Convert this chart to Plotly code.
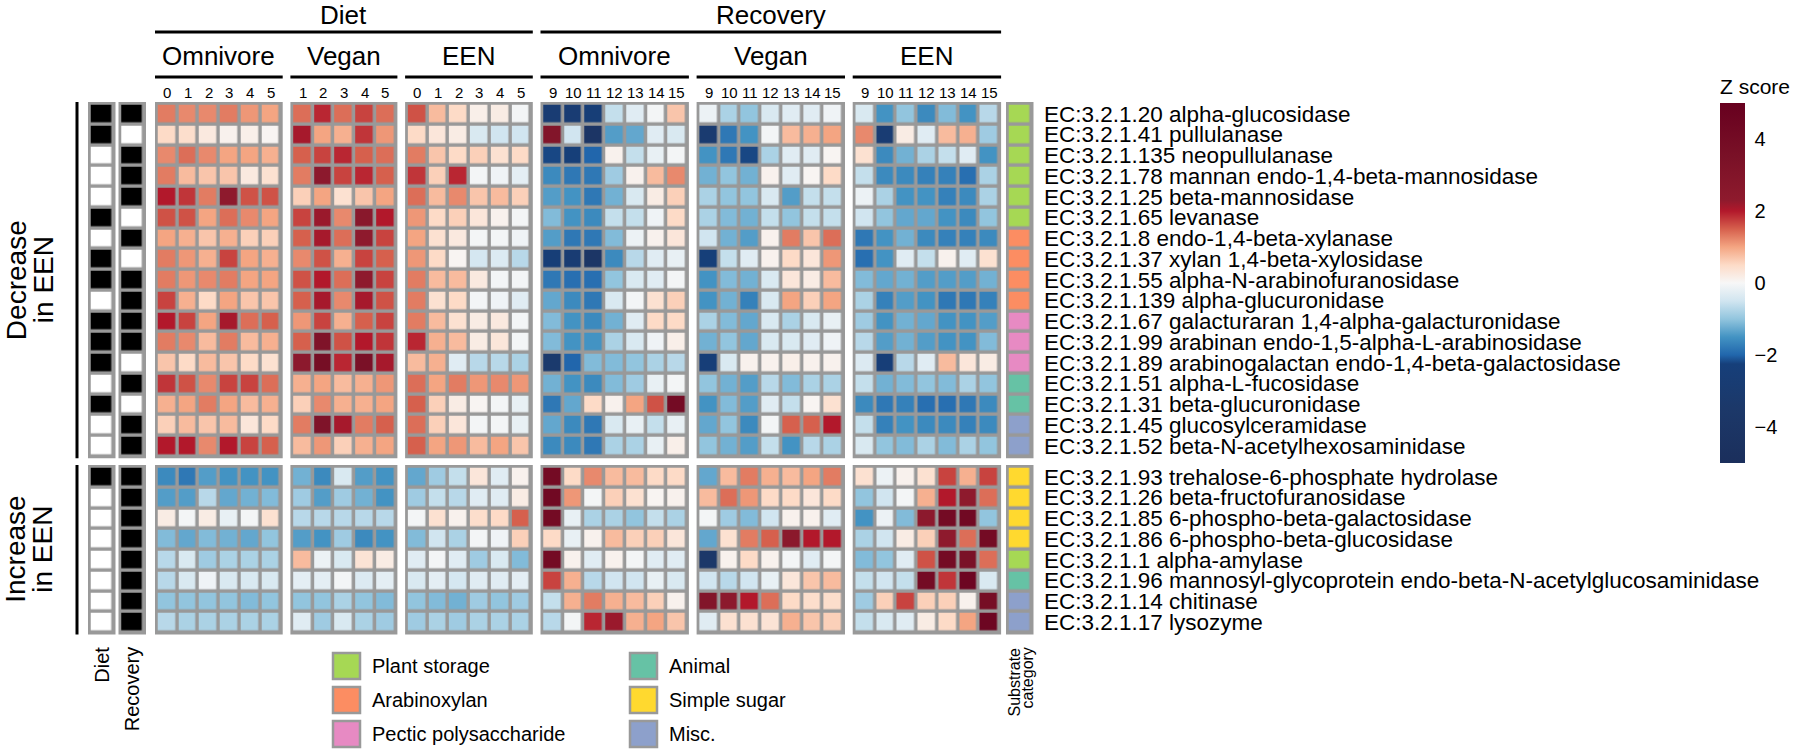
import plotly.graph_objects as go

# ---------------- data ----------------
enzymes_decrease = [
    "EC:3.2.1.20 alpha-glucosidase",
    "EC:3.2.1.41 pullulanase",
    "EC:3.2.1.135 neopullulanase",
    "EC:3.2.1.78 mannan endo-1,4-beta-mannosidase",
    "EC:3.2.1.25 beta-mannosidase",
    "EC:3.2.1.65 levanase",
    "EC:3.2.1.8 endo-1,4-beta-xylanase",
    "EC:3.2.1.37 xylan 1,4-beta-xylosidase",
    "EC:3.2.1.55 alpha-N-arabinofuranosidase",
    "EC:3.2.1.139 alpha-glucuronidase",
    "EC:3.2.1.67 galacturaran 1,4-alpha-galacturonidase",
    "EC:3.2.1.99 arabinan endo-1,5-alpha-L-arabinosidase",
    "EC:3.2.1.89 arabinogalactan endo-1,4-beta-galactosidase",
    "EC:3.2.1.51 alpha-L-fucosidase",
    "EC:3.2.1.31 beta-glucuronidase",
    "EC:3.2.1.45 glucosylceramidase",
    "EC:3.2.1.52 beta-N-acetylhexosaminidase",
]
enzymes_increase = [
    "EC:3.2.1.93 trehalose-6-phosphate hydrolase",
    "EC:3.2.1.26 beta-fructofuranosidase",
    "EC:3.2.1.85 6-phospho-beta-galactosidase",
    "EC:3.2.1.86 6-phospho-beta-glucosidase",
    "EC:3.2.1.1 alpha-amylase",
    "EC:3.2.1.96 mannosyl-glycoprotein endo-beta-N-acetylglucosaminidase",
    "EC:3.2.1.14 chitinase",
    "EC:3.2.1.17 lysozyme",
]

diet_omnivore_days = ["0", "1", "2", "3", "4", "5"]
diet_vegan_days = ["1", "2", "3", "4", "5"]
diet_een_days = ["0", "1", "2", "3", "4", "5"]
recovery_days = ["9", "10", "11", "12", "13", "14", "15"]

z_diet_omnivore = [
    [1.3, 1.2, 1.2, 1.3, 1.1, 1.0],
    [0.5, 0.45, 0.25, 0.1, 0.15, 0.05],
    [1.2, 1.4, 1.2, 1.0, 1.0, 0.9],
    [1.3, 0.8, 0.7, 0.7, 0.25, 0.4],
    [2.0, 1.8, 1.3, 2.3, 1.6, 1.6],
    [1.6, 1.6, 1.0, 1.4, 1.2, 1.0],
    [1.0, 0.9, 0.7, 0.9, 0.6, 0.6],
    [1.3, 1.1, 0.9, 1.7, 1.0, 0.9],
    [1.3, 1.1, 1.2, 1.3, 1.0, 1.0],
    [1.7, 0.9, 0.5, 1.0, 0.7, 0.7],
    [2.0, 1.7, 1.0, 2.1, 1.4, 1.5],
    [1.3, 1.2, 0.8, 1.3, 0.8, 0.9],
    [0.7, 0.5, 0.8, 0.7, 0.5, 0.4],
    [1.8, 1.6, 1.2, 1.7, 1.7, 1.4],
    [0.9, 1.0, 1.3, 1.0, 0.8, 0.9],
    [0.6, 0.8, 0.7, 0.8, 0.3, 0.5],
    [2.0, 2.0, 1.2, 2.0, 1.7, 1.5],
    [-1.6, -1.8, -1.4, -1.5, -1.5, -1.5],
    [-1.4, -1.4, -0.7, -1.3, -1.2, -1.1],
    [0.2, -0.05, 0.2, -0.2, -0.05, 0.4],
    [-1.1, -1.3, -1.1, -1.2, -1.3, -1.0],
    [-0.7, -0.4, -0.9, -0.8, -0.8, -0.8],
    [-0.7, -0.4, -0.1, -0.4, -0.4, -0.4],
    [-1.0, -1.0, -1.0, -1.0, -1.1, -1.0],
    [-0.7, -0.8, -0.8, -0.8, -0.8, -0.8],
]

z_diet_vegan = [
    [1.4, 1.9, 1.4, 1.7, 1.4],
    [2.1, 1.0, 0.9, 1.8, 1.1],
    [1.5, 1.7, 1.9, 1.5, 1.4],
    [1.3, 2.4, 1.7, 1.9, 1.5],
    [0.6, 1.0, 0.4, 0.7, 1.0],
    [1.7, 2.2, 1.2, 2.6, 2.0],
    [1.5, 2.1, 1.4, 2.3, 1.7],
    [1.2, 1.6, 0.9, 1.7, 1.5],
    [1.6, 2.0, 1.4, 2.3, 1.7],
    [1.5, 2.1, 1.2, 2.1, 1.6],
    [1.1, 1.7, 0.9, 1.5, 1.7],
    [1.5, 3.2, 1.6, 2.0, 1.8],
    [2.4, 3.8, 1.9, 3.5, 2.1],
    [0.9, 1.0, 0.8, 0.9, 1.1],
    [0.6, 1.2, 0.9, 0.9, 1.0],
    [1.3, 3.2, 2.1, 1.3, 1.5],
    [0.8, 1.1, 0.6, 0.9, 1.0],
    [-1.2, -1.6, -0.4, -1.4, -1.5],
    [-0.9, -1.4, -0.9, -1.2, -1.5],
    [-0.7, -0.7, -0.7, -0.7, -0.7],
    [-1.4, -1.5, -0.9, -1.6, -1.5],
    [0.8, -0.15, -0.4, 0.35, 0.2],
    [-0.25, -0.25, -0.05, -0.35, -0.25],
    [-1.0, -1.0, -0.8, -1.0, -1.1],
    [-0.3, -0.9, -0.4, -0.8, -0.9],
]

z_diet_een = [
    [1.6, 0.8, 0.5, 0.15, 0.2, -0.05],
    [0.5, 0.3, 0.2, -0.4, -0.5, -0.5],
    [1.3, 0.7, 0.5, 0.6, 0.4, 0.5],
    [1.8, 0.6, 1.9, -0.05, -0.1, -0.25],
    [1.4, 0.8, 1.2, 0.7, 0.8, 0.6],
    [1.1, 0.5, 0.6, 0.3, 0.1, -0.05],
    [1.0, 0.4, 0.25, -0.05, -0.05, -0.1],
    [1.1, 0.5, 0.05, -0.45, -0.35, -0.7],
    [1.3, 0.8, 0.8, 0.25, -0.05, -0.05],
    [1.3, 0.4, 0.5, -0.05, -0.1, -0.3],
    [1.3, 0.8, 0.4, 0.2, 0.25, -0.05],
    [1.9, 0.9, 0.8, 0.2, 0.3, -0.05],
    [0.8, 0.9, -0.3, -0.7, -0.7, -0.8],
    [1.4, 1.0, 1.3, 1.1, 1.2, 1.1],
    [1.5, 0.6, 0.2, 0.05, -0.05, -0.2],
    [1.4, 0.6, 0.3, -0.05, -0.05, -0.2],
    [1.5, 1.0, 1.1, 0.8, 1.0, 0.7],
    [-1.3, -0.9, -0.6, 0.3, -0.3, 0.1],
    [-0.9, -0.6, -0.7, -0.3, -0.3, 0.2],
    [-0.05, 0.4, 0.1, 0.45, 0.5, 1.5],
    [-1.1, -0.5, -0.8, -0.05, -0.1, 0.6],
    [-0.3, -0.05, -0.3, -0.9, -0.4, -1.1],
    [-0.4, -0.25, -0.45, -0.3, -0.3, -0.25],
    [-1.0, -1.1, -1.2, -0.9, -1.0, -0.9],
    [-0.9, -0.8, -0.9, -0.8, -0.8, -0.8],
]

z_recovery_omnivore = [
    [-2.8, -2.8, -2.5, -0.6, -0.3, -0.05, 0.7],
    [3.0, -0.5, -4.0, -1.4, -1.3, -0.3, -0.4],
    [-2.2, -2.3, -2.0, 0.1, -0.6, -0.2, -0.05],
    [-1.6, -1.8, -1.8, -0.9, 0.1, 0.8, 1.2],
    [-1.4, -1.5, -1.8, -1.2, -0.4, 0.2, 0.6],
    [-1.1, -1.5, -1.6, -0.6, -0.6, -0.1, 0.5],
    [-1.4, -1.8, -1.8, -1.1, -0.15, 0.1, 0.3],
    [-2.5, -2.8, -3.8, -1.6, -0.7, -0.3, -0.2],
    [-1.8, -1.9, -1.9, -1.0, -0.4, -0.3, -0.05],
    [-1.3, -1.6, -1.8, -0.4, -0.05, 0.4, 0.6],
    [-1.1, -1.5, -1.6, -1.2, -0.3, 0.5, 0.5],
    [-1.1, -1.5, -1.5, -0.8, -0.4, -0.1, 0.15],
    [-3.2, -2.0, -1.1, -1.1, -1.0, -0.8, -0.7],
    [-1.2, -1.5, -1.6, -1.1, -0.9, -0.2, -0.05],
    [-1.8, -1.3, 0.5, 0.1, 1.0, 1.6, 4.0],
    [-1.3, -1.6, -1.8, -0.4, -0.2, -0.6, -0.2],
    [-1.6, -1.6, -1.8, -0.8, -0.8, -0.2, 0.15],
    [4.0, 0.5, 1.2, 0.8, 0.8, 0.5, 0.5],
    [4.2, 1.1, -0.05, 0.6, 0.4, 0.05, 0.1],
    [4.0, -0.2, -0.8, -0.8, -1.0, -0.6, -0.8],
    [0.5, -0.2, 0.1, 0.8, 0.6, 0.6, 0.3],
    [4.0, 0.1, -0.3, 0.1, -0.05, -0.3, -0.3],
    [1.7, 0.9, -0.7, -0.5, -0.5, -0.2, -0.4],
    [-0.6, 0.9, 1.3, 0.9, 0.8, 0.6, 0.1],
    [-0.7, -0.05, 1.9, 2.2, 0.9, 1.0, 0.7],
]

z_recovery_vegan = [
    [-0.15, -0.8, -1.0, -0.4, -0.3, -0.3, -0.1],
    [-3.0, -1.8, -1.5, -0.05, 0.8, 0.9, 1.0],
    [-1.5, -1.8, -2.2, -0.8, -0.3, -0.3, 0.05],
    [-1.2, -1.0, -1.2, 0.1, -0.3, 0.05, 0.5],
    [-0.8, -1.0, -1.0, -0.4, -1.4, -0.6, -0.6],
    [-0.8, -1.1, -1.2, -0.6, -1.0, -0.6, -0.6],
    [-0.5, -1.2, -1.4, 0.1, 1.3, 0.7, 1.4],
    [-2.3, -0.6, -0.3, 0.1, 0.5, 0.3, 1.1],
    [-1.5, -1.1, -1.2, -0.4, 0.3, 0.2, 0.8],
    [-1.5, -1.2, -1.7, -0.4, 1.0, 0.6, 1.0],
    [-0.8, -1.1, -1.3, -0.4, -0.8, -0.4, -0.2],
    [-1.2, -1.0, -1.3, -0.4, -0.4, -0.3, -0.1],
    [-2.4, -0.4, 0.1, 0.1, 0.15, 0.1, 0.1],
    [-1.0, -1.2, -1.4, -0.7, -1.1, -0.8, -0.8],
    [-1.5, -1.1, -1.4, -0.3, -0.6, 0.05, 0.4],
    [-1.3, -1.0, -1.6, -0.05, 1.5, 1.5, 2.0],
    [-1.0, -1.2, -1.4, -0.6, -1.5, -0.7, -0.8],
    [-1.3, 0.8, 1.3, 0.9, 0.8, 1.0, 1.3],
    [0.8, 1.4, 1.1, 0.5, 0.5, 0.3, 0.5],
    [-0.05, -0.9, -1.1, -0.5, 0.1, 0.1, -0.3],
    [-1.3, 0.4, 1.3, 1.5, 2.5, 2.0, 2.0],
    [-3.5, 0.1, 0.5, 0.1, -0.05, -0.3, -0.05],
    [-0.5, -0.7, -0.5, -0.2, 0.3, 0.7, 0.8],
    [3.0, 2.4, 2.0, 1.4, 0.5, 0.45, 0.45],
    [-0.3, 0.4, 0.4, 0.35, 0.9, 0.7, 0.6],
]

z_recovery_een = [
    [-0.4, -1.5, -1.0, -1.6, -1.1, -1.5, -0.7],
    [1.2, -2.8, 0.2, -0.3, 0.8, 0.9, -0.9],
    [0.4, -1.6, -1.2, -0.8, -0.6, -0.3, -1.5],
    [-0.6, -1.6, -1.6, -1.7, -1.7, -1.9, -0.8],
    [-0.15, -0.8, -1.5, -1.5, -1.7, -1.6, -0.8],
    [-0.5, -1.0, -1.3, -1.3, -1.5, -1.6, -1.0],
    [-1.8, -1.5, -1.2, -1.6, -1.7, -1.7, -1.6],
    [-1.9, -1.5, -0.3, -0.6, 0.1, -0.3, 0.4],
    [-1.1, -1.3, -1.2, -1.4, -1.4, -1.4, -1.2],
    [-0.8, -1.7, -1.4, -1.5, -1.8, -1.8, -1.7],
    [-0.9, -1.5, -1.2, -1.3, -1.5, -1.5, -1.4],
    [-0.7, -1.4, -1.2, -1.4, -1.5, -1.5, -1.1],
    [-0.35, -2.4, -0.7, -0.3, 0.8, 0.3, 0.2],
    [-0.6, -1.2, -1.1, -1.0, -1.1, -0.8, -1.0],
    [-1.6, -1.8, -1.7, -1.9, -1.9, -1.8, -1.6],
    [-0.6, -1.7, -1.5, -1.6, -1.6, -1.7, -1.6],
    [-0.4, -1.0, -1.1, -0.8, -1.1, -0.8, -1.0],
    [0.4, -0.15, 0.1, 0.4, 1.7, 0.9, 1.7],
    [-1.0, -0.5, -0.05, 0.9, 2.0, 2.3, 1.4],
    [-1.5, -0.15, -1.1, 2.4, 4.0, 4.2, -1.0],
    [-0.8, -0.5, 0.2, 0.6, 2.3, 1.4, 4.0],
    [-1.1, -1.0, -0.3, 1.6, 4.0, 3.5, 1.4],
    [-0.6, -0.5, -0.6, 4.0, 1.8, 4.5, -0.4],
    [-0.9, 0.6, 1.7, 0.6, 0.6, 0.1, 3.8],
    [-0.6, -0.4, -0.3, 0.2, 0.5, 1.0, 4.5],
]

diet_significant = [1, 1, 0, 0, 0, 1, 0, 1, 1, 0, 1, 1, 1, 0, 1, 0, 0,
                    1, 0, 0, 0, 0, 0, 0, 0]
recovery_significant = [1, 0, 1, 1, 1, 0, 1, 0, 1, 1, 1, 1, 0, 1, 0, 1, 1,
                        1, 1, 1, 1, 1, 1, 1, 1]

category_names = ["Plant storage", "Arabinoxylan", "Pectic polysaccharide",
                  "Animal", "Simple sugar", "Misc."]
category_colors = ["#a6d854", "#fc8d62", "#e78ac3", "#66c2a5", "#ffd92f", "#8da0cb"]
substrate_category = [
    "Plant storage", "Plant storage", "Plant storage", "Plant storage", "Plant storage", "Plant storage",
    "Arabinoxylan", "Arabinoxylan", "Arabinoxylan", "Arabinoxylan",
    "Pectic polysaccharide", "Pectic polysaccharide", "Pectic polysaccharide",
    "Animal", "Animal", "Misc.", "Misc.",
    "Simple sugar", "Simple sugar", "Simple sugar", "Simple sugar",
    "Plant storage", "Animal", "Misc.", "Misc.",
]

zscore_ticks = [-4, -2, 0, 2, 4]

# ---------------- layout constants ----------------
W, H = 1800, 750
PX, PY = 20.7, 20.75       # cell pitch
G = 3.5                     # gap between cells / frame thickness
FRAME = "#999999"
FONT = "Liberation Sans, Arial, Helvetica, sans-serif"
group_tops = [102, 465]
group_sizes = [len(enzymes_decrease), len(enzymes_increase)]
group_starts = [0, group_sizes[0]]
BLOCK_GAP = 7.7
FIRST_LEFT = 155
ANN_W = 27.5

zs = [
    [-5, "#1b2f5c"], [-3.5, "#1c3869"], [-2.25, "#163f7a"], [-2.0, "#2166ac"],
    [-1.5, "#4393c3"], [-1.0, "#92c5de"], [-0.5, "#d1e5f0"], [0, "#f7f7f7"],
    [0.5, "#fddbc7"], [1.0, "#f4a582"], [1.5, "#d6604d"], [2.0, "#b2182b"],
    [2.3, "#8e1a2d"], [3.5, "#7a1127"], [5, "#67001f"],
]
colorscale = [[(v + 5) / 10, c] for v, c in zs]

fig = go.Figure()
shapes = []
annotations = []


def text(x, y, s, size, xanchor="center", yanchor="middle", angle=0, color="black"):
    annotations.append(dict(x=x, y=y, xref="x", yref="y", text=s, showarrow=False,
                            xanchor=xanchor, yanchor=yanchor, textangle=angle,
                            font=dict(family=FONT, size=size, color=color)))


def hline(x0, x1, y, w=3):
    shapes.append(dict(type="line", xref="x", yref="y", x0=x0, x1=x1, y0=y, y1=y,
                       line=dict(color="black", width=w)))


blocks = [
    ("Diet", "Omnivore", diet_omnivore_days, z_diet_omnivore),
    ("Diet", "Vegan", diet_vegan_days, z_diet_vegan),
    ("Diet", "EEN", diet_een_days, z_diet_een),
    ("Recovery", "Omnivore", recovery_days, z_recovery_omnivore),
    ("Recovery", "Vegan", recovery_days, z_recovery_vegan),
    ("Recovery", "EEN", recovery_days, z_recovery_een),
]

left = FIRST_LEFT
phase_extent = {}
for phase, diet, days, z in blocks:
    n = len(days)
    width = n * PX + G
    for gi in range(2):
        top = group_tops[gi]
        nr = group_sizes[gi]
        s = group_starts[gi]
        fig.add_trace(go.Heatmap(
            z=z[s:s + nr], x0=left + G / 2 + PX / 2, dx=PX,
            y0=top + G / 2 + PY / 2, dy=PY, coloraxis="coloraxis",
            xgap=G, ygap=G, hoverinfo="skip"))
        shapes.append(dict(type="rect", xref="x", yref="y", x0=left, x1=left + width,
                           y0=top, y1=top + nr * PY + G, fillcolor=FRAME,
                           line=dict(width=0), layer="below"))
    for j, d in enumerate(days):
        text(left + G / 2 + PX / 2 + j * PX, 92, d, 15)
    text(left + width / 2, 56, diet, 26)
    hline(left, left + width, 77)
    lo, hi = phase_extent.get(phase, (left, left + width))
    phase_extent[phase] = (min(lo, left), max(hi, left + width))
    left += width + BLOCK_GAP

for phase, (lo, hi) in phase_extent.items():
    text((lo + hi) / 2, 15, phase, 26)
    hline(lo, hi, 32)

# Diet / Recovery significance annotation columns
ann_cols = [("Diet", diet_significant, 88), ("Recovery", recovery_significant, 118.5)]
for name, flags, x_left in ann_cols:
    for gi in range(2):
        top = group_tops[gi]
        nr = group_sizes[gi]
        s = group_starts[gi]
        fig.add_trace(go.Heatmap(
            z=[[v] for v in flags[s:s + nr]], x0=x_left + ANN_W / 2, dx=ANN_W - G,
            y0=top + G / 2 + PY / 2, dy=PY,
            colorscale=[[0, "#ffffff"], [1, "#000000"]], zmin=0, zmax=1,
            showscale=False, xgap=G, ygap=G, hoverinfo="skip"))
        shapes.append(dict(type="rect", xref="x", yref="y", x0=x_left, x1=x_left + ANN_W,
                           y0=top, y1=top + nr * PY + G, fillcolor=FRAME,
                           line=dict(width=0), layer="below"))
    text(x_left + ANN_W / 2, 645, name, 20, yanchor="top", angle=-90)

# Substrate category column
SUB_LEFT = 1006
cat_index = [category_names.index(c) for c in substrate_category]
nc = len(category_names)
cat_scale = []
for k, c in enumerate(category_colors):
    cat_scale.append([k / nc, c])
    cat_scale.append([(k + 1) / nc, c])
for gi in range(2):
    top = group_tops[gi]
    nr = group_sizes[gi]
    s = group_starts[gi]
    fig.add_trace(go.Heatmap(
        z=[[v] for v in cat_index[s:s + nr]], x0=SUB_LEFT + ANN_W / 2, dx=ANN_W - G,
        y0=top + G / 2 + PY / 2, dy=PY, colorscale=cat_scale, zmin=-0.5, zmax=nc - 0.5,
        showscale=False, xgap=G, ygap=G, hoverinfo="skip"))
    shapes.append(dict(type="rect", xref="x", yref="y", x0=SUB_LEFT, x1=SUB_LEFT + ANN_W,
                       y0=top, y1=top + nr * PY + G, fillcolor=FRAME,
                       line=dict(width=0), layer="below"))
text(SUB_LEFT + 8, 646, "Substrate", 16, yanchor="top", angle=-90)
text(SUB_LEFT + 21, 646, "category", 16, yanchor="top", angle=-90)

# Row labels
all_rows = enzymes_decrease + enzymes_increase
for gi in range(2):
    top = group_tops[gi]
    for i in range(group_sizes[gi]):
        text(1042, top + G / 2 + PY / 2 + i * PY, all_rows[group_starts[gi] + i], 22.5,
             xanchor="left")

# Left row-group labels with bars
group_titles = [("Decrease", "in EEN"), ("Increase", "in EEN")]
for gi in range(2):
    top = group_tops[gi]
    bot = top + group_sizes[gi] * PY + G
    mid = (top + bot) / 2
    shapes.append(dict(type="line", xref="x", yref="y", x0=77, x1=77, y0=top, y1=bot,
                       line=dict(color="black", width=3)))
    text(16, mid, group_titles[gi][0], 28, angle=-90)
    text(43, mid, group_titles[gi][1], 28, angle=-90)

# Substrate legend (two columns)
leg_cols_x = [333, 630]
leg_rows_y = [666, 700, 734]
for k, (name, col) in enumerate(zip(category_names, category_colors)):
    cx = leg_cols_x[k // 3]
    cy = leg_rows_y[k % 3]
    shapes.append(dict(type="rect", xref="x", yref="y", x0=cx, x1=cx + 27,
                       y0=cy - 13, y1=cy + 13, fillcolor=col,
                       line=dict(color=FRAME, width=2.5)))
    text(cx + 37, cy, name, 20, xanchor="left")

fig.update_layout(
    width=W, height=H,
    margin=dict(l=0, r=0, t=0, b=0, autoexpand=False),
    paper_bgcolor="white", plot_bgcolor="white",
    xaxis=dict(range=[0, W], visible=False, showgrid=False, zeroline=False, fixedrange=True),
    yaxis=dict(range=[H, 0], visible=False, showgrid=False, zeroline=False, fixedrange=True),
    coloraxis=dict(
        colorscale=colorscale, cmin=-5, cmax=5,
        colorbar=dict(
            x=1720 / W, xanchor="left", y=1 - 75 / H, yanchor="top",
            len=388 / H, lenmode="fraction", thickness=25, thicknessmode="pixels",
            outlinewidth=0, xpad=0, ypad=0,
            tickvals=zscore_ticks, ticks="outside", ticklen=6, tickcolor="rgba(0,0,0,0)",
            tickfont=dict(family=FONT, size=20, color="black"),
            title=dict(text="Z score", side="top", font=dict(family=FONT, size=21, color="black")),
        ),
    ),
    shapes=shapes,
    annotations=annotations,
    showlegend=False,
)

fig.write_html("out.html", config={"displayModeBar": False},
               post_script="document.body.style.margin='0px';")
